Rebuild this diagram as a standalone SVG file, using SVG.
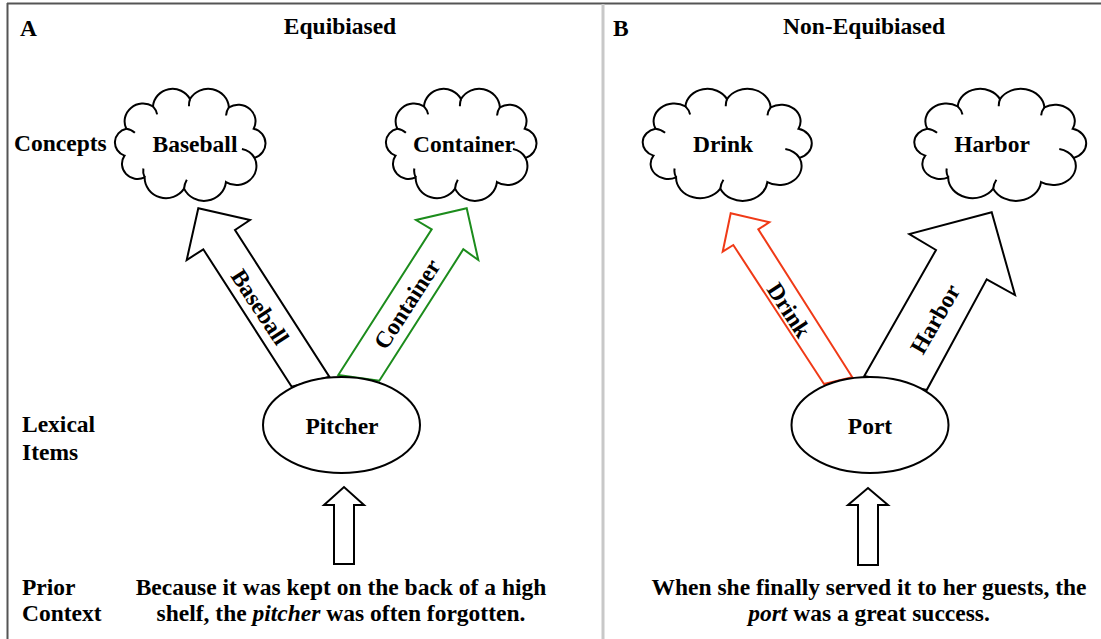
<svg xmlns="http://www.w3.org/2000/svg" width="1101" height="639" viewBox="0 0 1101 639">
<style>
text{font-family:"Liberation Serif","Times New Roman",serif;font-weight:bold;font-size:23.5px;fill:#000}
.mid{text-anchor:middle}
.shape{fill:#fff;stroke:#000;stroke-width:2}
.cl{fill:#fff;stroke:#000;stroke-width:2;vector-effect:non-scaling-stroke}
.inner{fill:none;stroke:#000;stroke-width:2;vector-effect:non-scaling-stroke}
.arrow{fill:#fff;stroke-width:2;stroke-linejoin:miter}
</style>
<defs>
<path id="cloudOutline" class="cl" d="M -61.8 11.4 A 13.8 13.8 0 0 1 -60.1 -15 A 17.4 17.4 0 0 1 -34.9 -36.9 A 18.5 18.5 0 0 1 0 -44 A 19.6 19.6 0 0 1 36.7 -36 A 16.3 16.3 0 0 1 60.1 -15 A 14.9 14.9 0 0 1 60.9 13.6 A 18.7 18.7 0 0 1 33.9 37.3 A 20.8 20.8 0 0 1 -5.6 43.8 A 20.2 20.2 0 0 1 -42.8 32.7 A 14.8 14.8 0 0 1 -61.8 11.4 Z"/>
<path id="cloudInner" class="inner" d="M 49 5 A 18 18 0 0 1 60.9 13.6 M -5.6 43.8 A 20 20 0 0 1 -3 35 M -42.8 32.7 A 15 15 0 0 1 -44 24 M -34.9 -36.9 A 17 17 0 0 1 -31 -29 M 36.7 -36 A 16 16 0 0 0 34 -28 M -60.1 -15 A 14 14 0 0 1 -52 -11 M 0 -44 A 19 19 0 0 0 -1 -37"/>
</defs>

<g id="frame">
<line x1="7" y1="3.5" x2="1101" y2="3.5" stroke="#555" stroke-width="2"/>
<line x1="7.5" y1="3" x2="7.5" y2="639" stroke="#555" stroke-width="2"/>
<line x1="603" y1="4" x2="603" y2="639" stroke="#c8c8c8" stroke-width="3"/>
</g>

<g id="labels">
<text x="20" y="36">A</text>
<text class="mid" x="340" y="34">Equibiased</text>
<text x="613" y="36">B</text>
<text class="mid" x="864" y="34">Non-Equibiased</text>
<text x="14" y="151">Concepts</text>
<text x="22" y="432">Lexical</text>
<text x="22" y="460">Items</text>
<text x="22" y="595">Prior</text>
<text x="22" y="621">Context</text>
</g>

<g id="connectors">
<polygon id="arrow-baseball" class="arrow" stroke="#000" points="291.7,386.7 203.3,249.3 186.7,260 198.3,208.3 250,220 235,230 329.3,376.7"/>
<polygon id="arrow-container" class="arrow" stroke="#1c8c1c" points="338.3,375 431.7,229.3 416,220 466.7,208.3 478.3,260 463.3,249.3 379.3,380.7"/>
<polygon id="arrow-drink" class="arrow" stroke="#f03a17" points="824,384 733.3,245 722.7,251.7 730.7,213.3 769.3,222.3 758.3,229.3 852.3,377.3"/>
<polygon id="arrow-harbor" class="arrow" stroke="#000" points="864.3,376 936,250 909.3,234 991.7,212.3 1015,295 986.7,279.3 926.7,390"/>
<polygon id="arrow-context-a" class="arrow" stroke="#000" points="334,564 334,505 324,505 344,487 364,505 354,505 354,564"/>
<polygon id="arrow-context-b" class="arrow" stroke="#000" points="858,565 858,505 848,505 868,488 888,505 878,505 878,565"/>
<text class="mid" transform="translate(260,307) rotate(56.5)" y="8">Baseball</text>
<text class="mid" transform="translate(407,304) rotate(-57)" y="8">Container</text>
<text class="mid" transform="translate(789,310) rotate(57)" y="8">Drink</text>
<text class="mid" transform="translate(935,319) rotate(-60)" y="8">Harbor</text>
</g>

<g id="cloud-baseball">
<g transform="translate(190,144) scale(1.06,1.02)"><use href="#cloudOutline"/><use href="#cloudInner"/></g>
<text class="mid" x="195" y="152">Baseball</text>
</g>
<g id="cloud-container">
<g transform="translate(461,144) scale(1.06,1.02)"><use href="#cloudOutline"/><use href="#cloudInner"/></g>
<text class="mid" x="464" y="152">Container</text>
</g>
<g id="cloud-drink">
<g transform="translate(727,144) scale(1.19,1.02)"><use href="#cloudOutline"/><use href="#cloudInner"/></g>
<text class="mid" x="723" y="152">Drink</text>
</g>
<g id="cloud-harbor">
<g transform="translate(1000,144) scale(1.21,1.02)"><use href="#cloudOutline"/><use href="#cloudInner"/></g>
<text class="mid" x="992" y="152">Harbor</text>
</g>

<g id="node-pitcher">
<ellipse class="shape" cx="341.5" cy="425" rx="78.5" ry="48"/>
<text class="mid" x="342" y="434">Pitcher</text>
</g>
<g id="node-port">
<ellipse class="shape" cx="870" cy="425" rx="78.5" ry="48"/>
<text class="mid" x="870" y="434">Port</text>
</g>

<g id="context-a">
<text class="mid" x="341" y="595">Because it was kept on the back of a high</text>
<text class="mid" x="341" y="621">shelf, the <tspan font-style="italic">pitcher</tspan> was often forgotten.</text>
</g>
<g id="context-b">
<text class="mid" x="869" y="595">When she finally served it to her guests, the</text>
<text class="mid" x="869" y="621"><tspan font-style="italic">port</tspan> was a great success.</text>
</g>
</svg>
